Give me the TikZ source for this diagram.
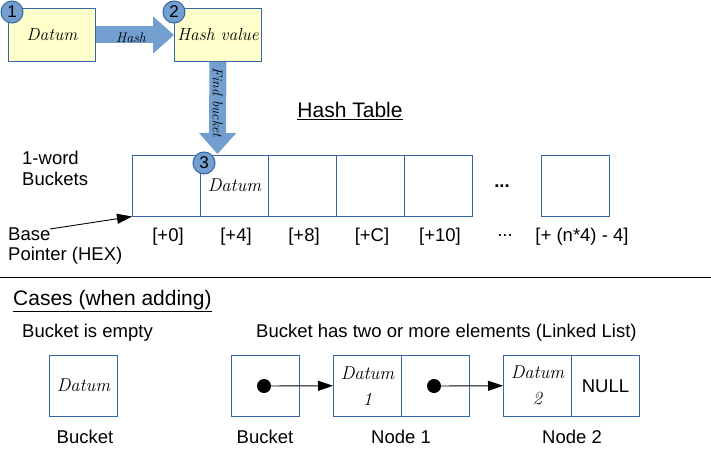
\documentclass[tikz,border=0pt]{standalone}
\usepackage{fontspec}
\newfontfamily\arialfont{Liberation Sans}
\usetikzlibrary{arrows.meta,positioning,calc}
\definecolor{boxblue}{RGB}{52,101,164}
\definecolor{arrowblue}{RGB}{114,159,207}
\definecolor{datumyellow}{RGB}{255,255,204}

\tikzset{
  txt/.style={font=\arialfont\fontsize{18.5}{21}\selectfont, inner sep=0pt},
  head/.style={font=\arialfont\fontsize{21}{24}\selectfont, inner sep=0pt},
  dat/.style={font=\fontsize{18.5}{21}\selectfont\itshape, inner sep=0pt},
  cell/.style={draw=boxblue, line width=1pt, minimum width=68pt, minimum height=60.5pt,
    inner sep=0pt, anchor=north west, font=\arialfont\fontsize{18.5}{21}\selectfont},
  hashbox/.style={cell, fill=datumyellow, minimum width=87pt, minimum height=53pt,
    font=\fontsize{17.5}{20}\selectfont\itshape},
  stepnum/.style={circle, draw=boxblue, fill=arrowblue, line width=1pt, minimum size=22pt,
    inner sep=0pt, font=\arialfont\fontsize{17}{17}\selectfont},
  bigarrow/.style={draw=arrowblue, line width=17pt, -{Triangle[length=21pt,width=36pt]}},
  ptr/.style={line width=0.9pt, -{Triangle[length=15pt,width=10pt]}},
  dot/.style={circle, fill, minimum size=14pt, inner sep=0pt},
  lbl/.style={font=\fontsize{14}{16}\selectfont\itshape, inner sep=0pt}
}

\begin{document}
\begin{tikzpicture}[x=1pt,y=-1pt]
\useasboundingbox (0,0) rectangle (711,452);
\node[hashbox] (d1) at (8,8) {Datum};
\node[hashbox] (hv) at (174,8) {Hash value};
\coordinate (fb) at (217.5,154);
\draw[bigarrow] (d1) -- (hv) node[lbl, midway, xshift=-4pt, yshift=-3pt] {Hash};
\draw[bigarrow] (hv) -- (fb) node[lbl, pos=0.44, rotate=-90] {Find bucket};

\node[head] (title) at (350,111) {\underline{Hash Table}};
\node[txt, align=left, anchor=west] (words) at (22,168) {1-word\\Buckets};
\foreach \i/\off in {0/+0,1/+4,2/+8,3/+C,4/+10} {
  \node[cell] (c\i) at ({132+68*\i},155) {};
  \node[txt] (l\i) at ({168+68*\i},237) {[\off]};
}
\node[txt, font=\arialfont\bfseries\fontsize{18.5}{21}\selectfont] (dots) at (502,186) {...};
\node[cell] (cn) at (541,155) {};
\node[txt] (ldots) at (505,236) {...};
\node[txt] (ln) at (582,237) {[+ (n*4) - 4]};
\node[dat] (cdat) at (c1) {Datum};

\node[txt, align=left, anchor=west] (base) at (8,246) {Base\\[-1pt]Pointer (HEX)};
\coordinate (bp) at (50,229);
\draw[ptr] (bp) -- (c0.south west);

\node[stepnum] (s1) at (12,12) {1};
\node[stepnum] (s2) at (174,12) {2};
\node[stepnum] (s3) at (204,163) {3};

\draw[line width=0.8pt] (0,277) -- (711,277);

\node[head, anchor=west] (cases) at (13,301) {\underline{Cases (when adding)}};
\node[txt, anchor=west] (empty) at (22,333) {Bucket is empty};
\node[txt, anchor=west] (full) at (256,333) {Bucket has two or more elements (Linked List)};

\node[cell] (eb) at (49,355) {};
\node[dat] (edat) at (eb) {Datum};
\node[txt] (ebl) at (85,437) {Bucket};

\node[cell] (lb) at (231,355) {};
\node[cell] (n1a) at (333,355) {};
\node[cell] (n1b) at (401,355) {};
\node[cell] (n2a) at (503,355) {};
\node[cell] (n2b) at (571,355) {NULL};
\node[dat, align=center] (d1t) at (n1a) {Datum\\[5pt]1};
\node[dat, align=center] (d2t) at (n2a) {Datum\\[5pt]2};
\node[dot] (p0) at (264,386) {};
\node[dot] (p1) at (434,386) {};
\draw[ptr] (p0) -- (n1a.west);
\draw[ptr] (p1) -- (n2a.west);

\node[txt] (lbl0) at (265,437) {Bucket};
\node[txt] (lbl1) at (401,437) {Node 1};
\node[txt] (lbl2) at (572,437) {Node 2};
\end{tikzpicture}
\end{document}
